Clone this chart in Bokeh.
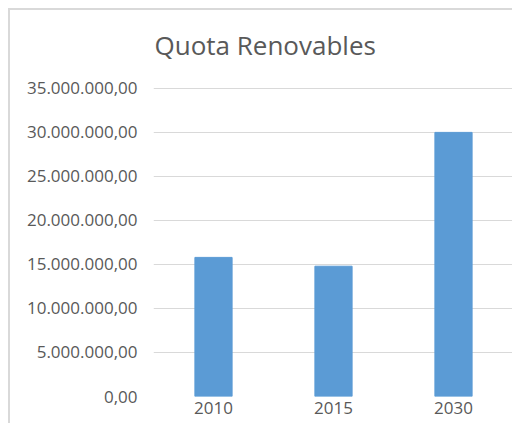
from bokeh.plotting import figure
from bokeh.models import FactorRange, Range1d, FixedTicker, Spacer, Title
from bokeh.layouts import column, row
from bokeh.embed import file_html
from bokeh.resources import INLINE

# ---- data ----
years = ["2010", "2015", "2030"]
quota = [15800000, 14800000, 30000000]
y_ticks = [0, 5000000, 10000000, 15000000, 20000000, 25000000, 30000000, 35000000]
y_tick_labels = ["0,00", "5.000.000,00", "10.000.000,00", "15.000.000,00",
                 "20.000.000,00", "25.000.000,00", "30.000.000,00", "35.000.000,00"]
title_text = "Quota  Renovables"

FONT = "Open Sans"
TEXT = "#595959"

p = figure(x_range=FactorRange(*years), y_range=Range1d(0, 35100000),
           width=504, height=415, output_backend="svg", toolbar_location=None,
           min_border_left=143, min_border_right=1, min_border_top=77, min_border_bottom=29,
           title=None)
p.styles = {"border-top": "2px solid #d9d9d9", "border-left": "2px solid #d9d9d9"}

p.vbar(x=years, top=quota, width=0.31, fill_color="#5B9BD5", line_color="#5B9BD5")

p.outline_line_color = None
p.background_fill_color = "white"
p.border_fill_color = "white"

# invisible gap between the frame and the title
p.add_layout(Title(text=" ", text_font_size="1px", standoff=22), "above")
p.add_layout(Title(text=title_text, text_font=FONT, text_font_size="26px",
                   text_font_style="normal", text_color=TEXT, align="left",
                   offset=1, standoff=0), "above")

p.xgrid.grid_line_color = None
p.ygrid.grid_line_color = "#D9D9D9"
p.ygrid.grid_line_width = 1

p.yaxis.ticker = FixedTicker(ticks=y_ticks)
p.yaxis.major_label_overrides = {t: l for t, l in zip(y_ticks, y_tick_labels)}
for ax in (p.xaxis, p.yaxis):
    ax.axis_line_color = None
    ax.major_tick_line_color = None
    ax.minor_tick_line_color = None
    ax.major_tick_in = 0
    ax.major_tick_out = 0
    ax.major_label_text_font = FONT
    ax.major_label_text_font_size = "17px"
    ax.major_label_text_color = TEXT
p.yaxis.major_label_standoff = 16
p.xaxis.major_label_standoff = 5

layout = column(Spacer(width=514, height=8), row(Spacer(width=8, height=415), p))

open("out.html", "w").write(file_html(layout, INLINE))
